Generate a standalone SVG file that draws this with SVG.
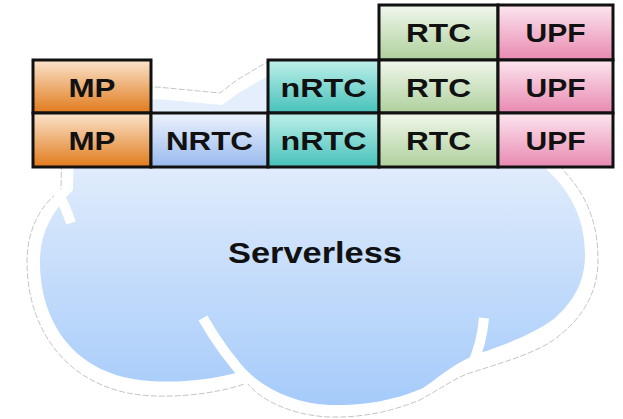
<svg xmlns="http://www.w3.org/2000/svg" width="623" height="419" viewBox="0 0 623 419">
  <defs>
    <linearGradient id="gCloud" gradientUnits="userSpaceOnUse" x1="0" y1="150" x2="0" y2="410">
      <stop offset="0" stop-color="#e4eefc"/>
      <stop offset="1" stop-color="#a4cafa"/>
    </linearGradient>
    <linearGradient id="gMP" x1="0" y1="0" x2="0" y2="1">
      <stop offset="0" stop-color="#fbe4cd"/>
      <stop offset="1" stop-color="#e07a1b"/>
    </linearGradient>
    <linearGradient id="gNRTC" x1="0" y1="0" x2="0" y2="1">
      <stop offset="0" stop-color="#edf3fc"/>
      <stop offset="1" stop-color="#98b9ee"/>
    </linearGradient>
    <linearGradient id="gnRTC" x1="0" y1="0" x2="0" y2="1">
      <stop offset="0" stop-color="#bff0ea"/>
      <stop offset="1" stop-color="#46c1ba"/>
    </linearGradient>
    <linearGradient id="gRTC" x1="0" y1="0" x2="0" y2="1">
      <stop offset="0" stop-color="#f1f7ed"/>
      <stop offset="1" stop-color="#aed09c"/>
    </linearGradient>
    <linearGradient id="gUPF" x1="0" y1="0" x2="0" y2="1">
      <stop offset="0" stop-color="#fce6ef"/>
      <stop offset="1" stop-color="#e889b1"/>
    </linearGradient>
  </defs>
  <style>
    .cell { stroke: #111; stroke-width: 3; }
    .lbl { font-family: "Liberation Sans", Arial, sans-serif; font-weight: bold; font-size: 26px; fill: #111; text-anchor: middle; }
    .big { font-size: 30px; }
    .rim { fill: #ffffff; stroke: #bdbdbd; stroke-width: 0.9; stroke-dasharray: 6 2; }
    .fold { fill: none; stroke: #ffffff; stroke-width: 10; }
  </style>

  <!-- cloud -->
  <g id="cloud">
    <path class="rim" d="M 62,140 L 61,190 C 40,205 27,230 27,262 C 27,325 62,382 133,394 C 165,399 215,395 247,383 C 265,405 300,416 330,417 C 370,418 400,408 420,400 C 445,386 455,378 470,373 C 510,360 540,352 560,335 C 585,315 598,290 598,260 C 598,228 590,198 563,170 L 550,120 L 267,62 L 237,80 L 220,93 L 157,87 L 100,95 Z"/>
    <path fill="url(#gCloud)" d="M 74,140 L 73,190 C 52,212 40,232 40,262 C 40,318 70,368 133,379 C 170,385 215,380 246,370 C 268,392 300,404 330,405 C 370,406 400,398 423,388 C 442,375 456,362 480,353 C 510,343 535,333 555,318 C 575,300 585,280 585,255 C 585,225 575,195 547,170 L 540,120 L 270,75 L 240,92 L 222,105 L 157,99 L 110,105 Z"/>
    <path class="fold" d="M 57,191 Q 65,205 71,223"/>
    <path class="fold" d="M 203,318 Q 222,352 250,382"/>
    <path class="fold" d="M 484,318 Q 482,343 472,365"/>
    <text class="lbl big" x="315" y="263" textLength="174" lengthAdjust="spacingAndGlyphs">Serverless</text>
  </g>

  <!-- top row -->
  <g id="rtc-1">
    <rect class="cell" x="379" y="5" width="119" height="55" fill="url(#gRTC)"/>
    <text class="lbl" x="438.5" y="42" textLength="65" lengthAdjust="spacingAndGlyphs">RTC</text>
  </g>
  <g id="upf-1">
    <rect class="cell" x="498" y="5" width="115" height="55" fill="url(#gUPF)"/>
    <text class="lbl" x="555.5" y="42" textLength="60" lengthAdjust="spacingAndGlyphs">UPF</text>
  </g>

  <!-- middle row -->
  <g id="mp-1">
    <rect class="cell" x="33" y="60" width="118" height="53" fill="url(#gMP)"/>
    <text class="lbl" x="92" y="97" textLength="47" lengthAdjust="spacingAndGlyphs">MP</text>
  </g>
  <g id="nrtc-small-1">
    <rect class="cell" x="268" y="60" width="111" height="53" fill="url(#gnRTC)"/>
    <text class="lbl" x="323.5" y="97" textLength="86" lengthAdjust="spacingAndGlyphs">nRTC</text>
  </g>
  <g id="rtc-2">
    <rect class="cell" x="379" y="60" width="119" height="53" fill="url(#gRTC)"/>
    <text class="lbl" x="438.5" y="97" textLength="65" lengthAdjust="spacingAndGlyphs">RTC</text>
  </g>
  <g id="upf-2">
    <rect class="cell" x="498" y="60" width="115" height="53" fill="url(#gUPF)"/>
    <text class="lbl" x="555.5" y="97" textLength="60" lengthAdjust="spacingAndGlyphs">UPF</text>
  </g>

  <!-- bottom row -->
  <g id="mp-2">
    <rect class="cell" x="33" y="113" width="118" height="54" fill="url(#gMP)"/>
    <text class="lbl" x="92" y="150" textLength="47" lengthAdjust="spacingAndGlyphs">MP</text>
  </g>
  <g id="nrtc-big">
    <rect class="cell" x="151" y="113" width="117" height="54" fill="url(#gNRTC)"/>
    <text class="lbl" x="209.5" y="150" textLength="87" lengthAdjust="spacingAndGlyphs">NRTC</text>
  </g>
  <g id="nrtc-small-2">
    <rect class="cell" x="268" y="113" width="111" height="54" fill="url(#gnRTC)"/>
    <text class="lbl" x="323.5" y="150" textLength="86" lengthAdjust="spacingAndGlyphs">nRTC</text>
  </g>
  <g id="rtc-3">
    <rect class="cell" x="379" y="113" width="119" height="54" fill="url(#gRTC)"/>
    <text class="lbl" x="438.5" y="150" textLength="65" lengthAdjust="spacingAndGlyphs">RTC</text>
  </g>
  <g id="upf-3">
    <rect class="cell" x="498" y="113" width="115" height="54" fill="url(#gUPF)"/>
    <text class="lbl" x="555.5" y="150" textLength="60" lengthAdjust="spacingAndGlyphs">UPF</text>
  </g>

  <g id="connectors"/>
</svg>
